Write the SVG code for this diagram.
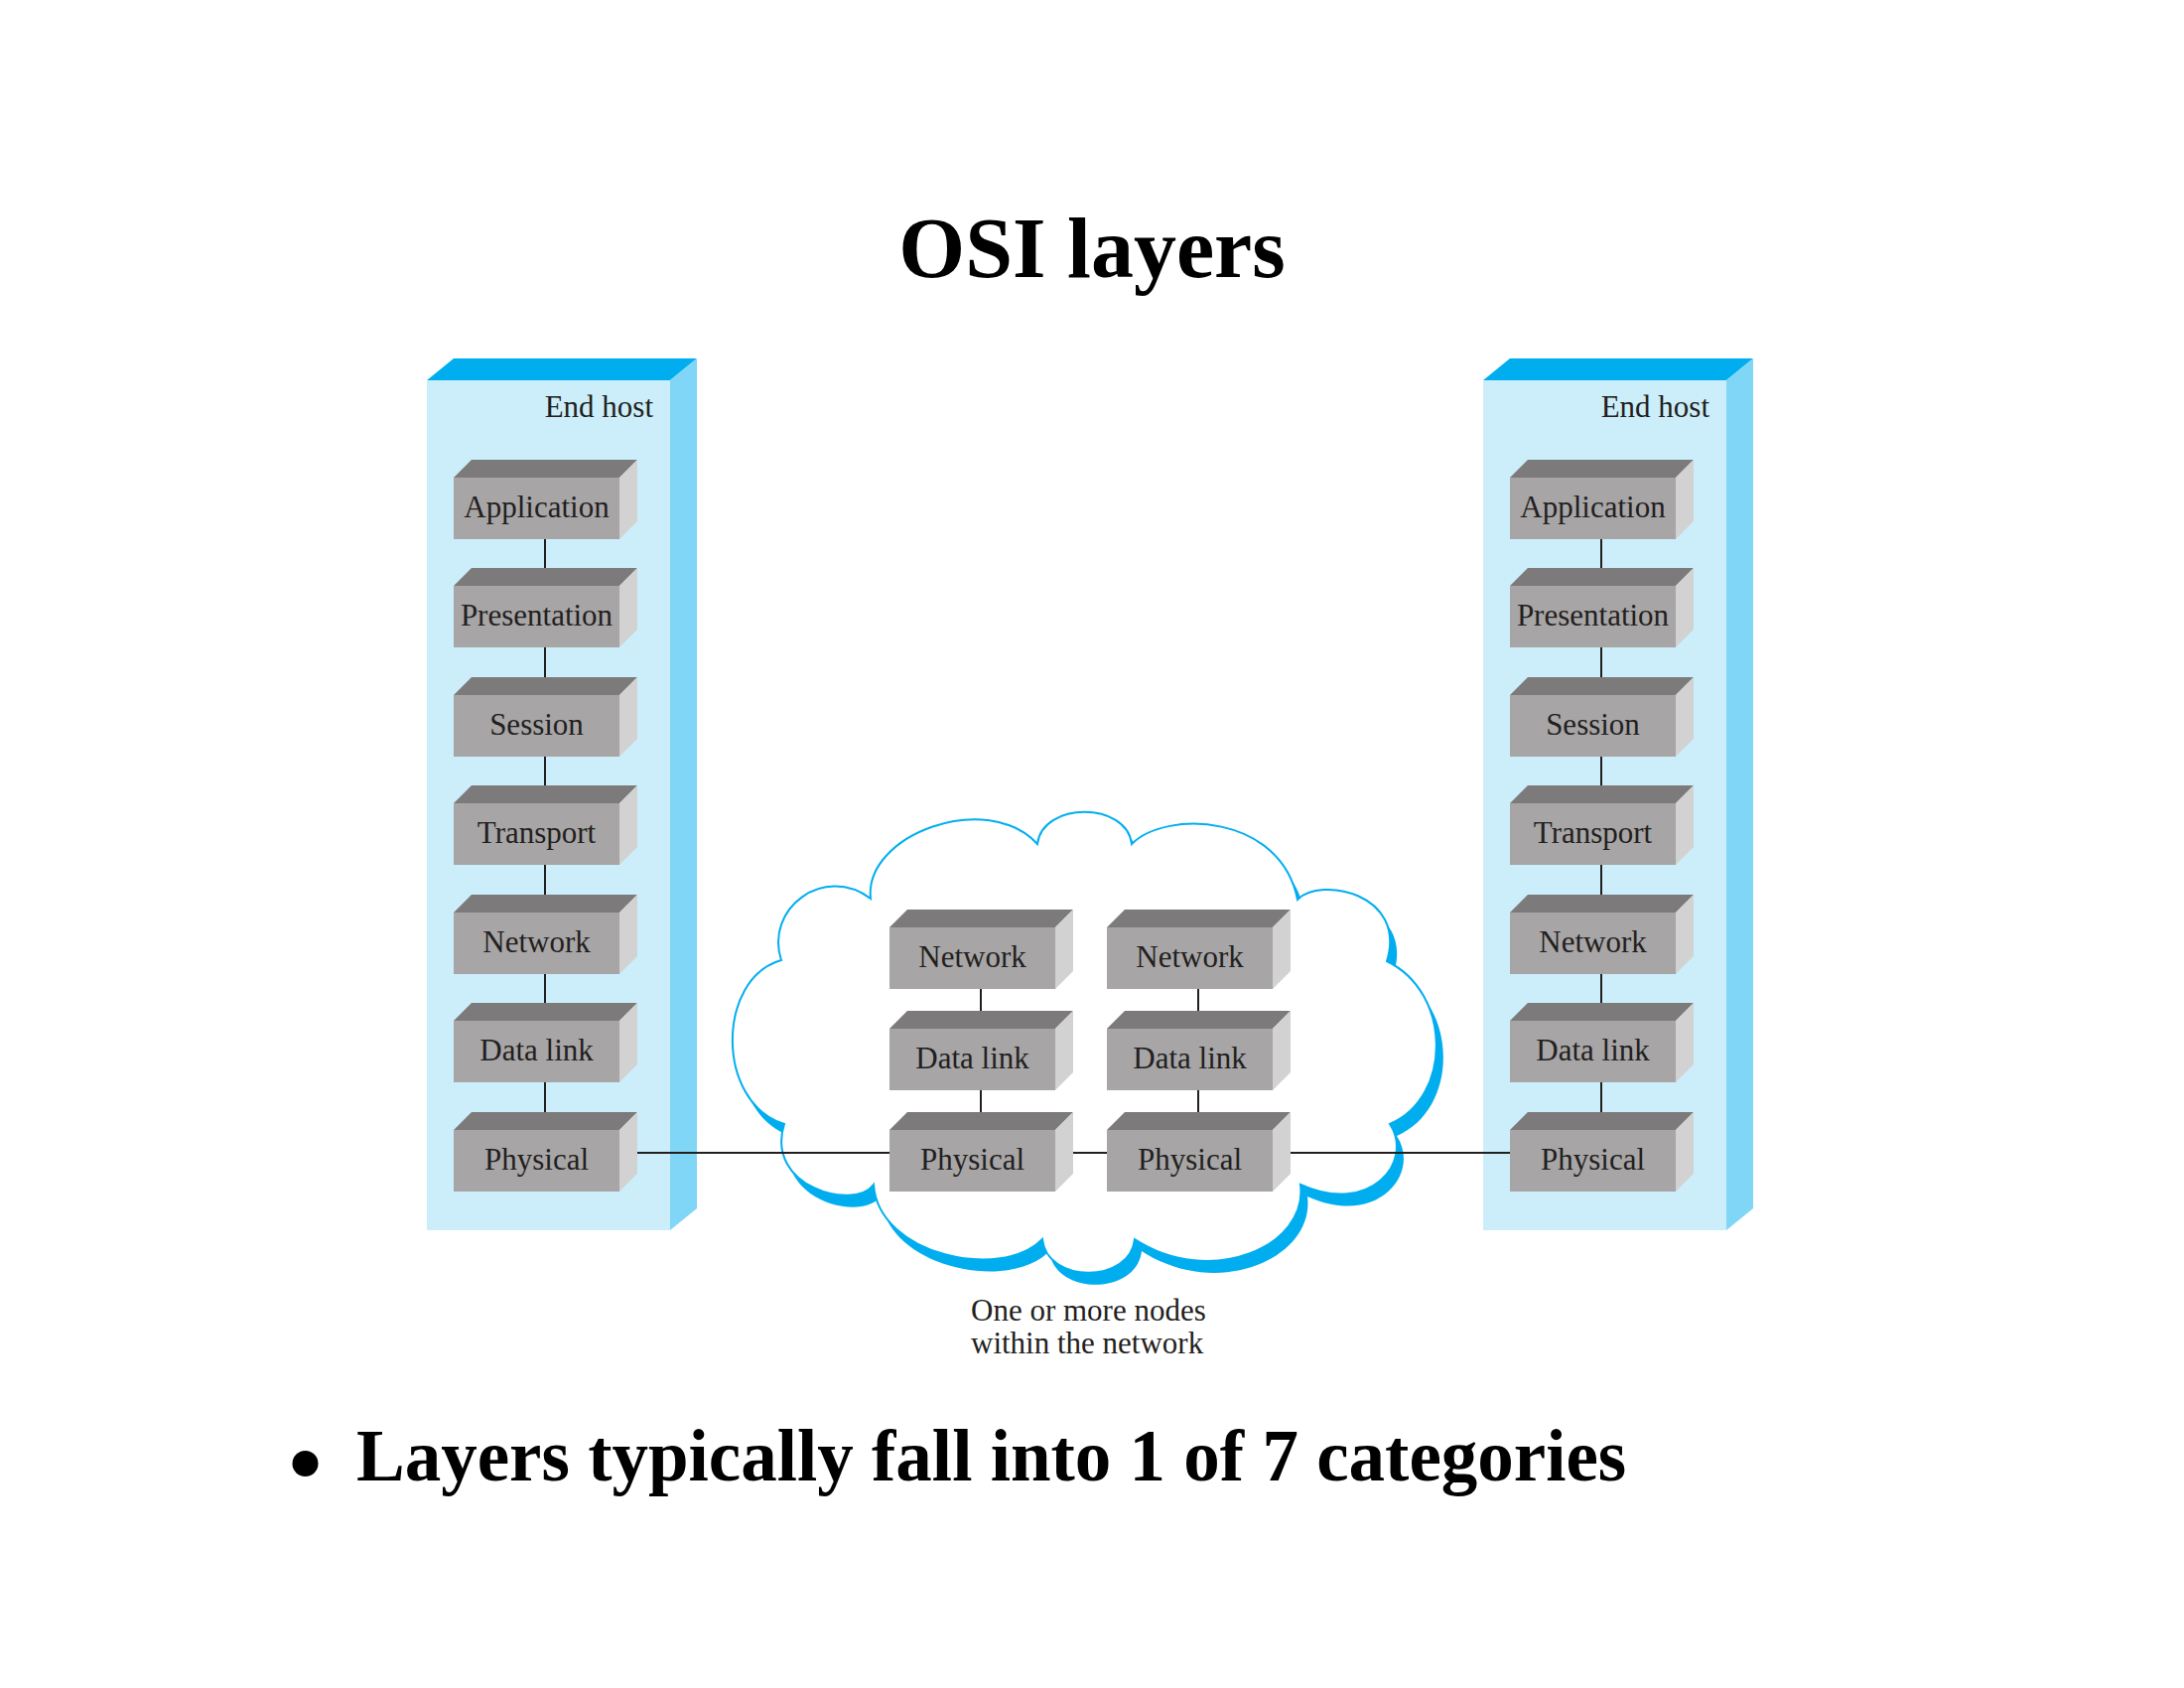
<svg xmlns="http://www.w3.org/2000/svg" xmlns:xlink="http://www.w3.org/1999/xlink" width="2200" height="1700" viewBox="0 0 2200 1700">
<style>
.tf{fill:#CCEEFA}
.tt{fill:#00AEEF}
.ts{fill:#80D6F7}
.bf{fill:#A7A5A6}
.bt{fill:#7D7A7B}
.bs{fill:#D2D2D2}
.lbl{font-family:"Liberation Serif",serif;font-size:31px;fill:#231F20;text-anchor:middle}
.cap{font-family:"Liberation Serif",serif;font-size:31px;fill:#231F20}
.ln{stroke:#231F20;stroke-width:2;fill:none}
.title{font-family:"Liberation Serif",serif;font-weight:bold;font-size:86px;fill:#000;text-anchor:middle}
.bul{font-family:"Liberation Serif",serif;font-weight:bold;font-size:73px;fill:#000}
</style>
<defs>
<g id="blk">
<polygon class="bt" points="0,0 18,-18 185,-18 167,0"/>
<polygon class="bs" points="167,0 185,-18 185,44 167,62"/>
<rect class="bf" x="0" y="0" width="167" height="62"/>
</g>
<path id="cloudp" d="M1045,850 C1050,807 1135,807 1140,850 C1175,815 1290,820 1307,906 C1330,882 1418,900 1397,968 C1463,1000 1463,1105 1400,1132 C1425,1170 1380,1225 1310,1193 C1318,1255 1220,1298 1143,1248 C1138,1293 1055,1293 1050,1248 C1010,1290 885,1265 880,1193 C860,1220 770,1195 790,1132 C720,1110 722,985 787,967 C770,915 830,870 877,905 C870,840 995,795 1045,850 Z"/>
</defs>
<rect width="2200" height="1700" fill="#fff"/>
<text class="title" x="1100" y="279">OSI layers</text>

<g id="host-left">
<polygon class="tt" points="430,383 457,361 702,361 675,383"/>
<polygon class="ts" points="675,383 702,361 702,1217 675,1239"/>
<rect class="tf" x="430" y="383" width="245" height="856"/>
<text class="cap" x="658" y="420" text-anchor="end">End host</text>
</g>
<g id="host-right">
<polygon class="tt" points="1494,383 1521,361 1766,361 1739,383"/>
<polygon class="ts" points="1739,383 1766,361 1766,1217 1739,1239"/>
<rect class="tf" x="1494" y="383" width="245" height="856"/>
<text class="cap" x="1722" y="420" text-anchor="end">End host</text>
</g>

<g id="cloud">
<use xlink:href="#cloudp" href="#cloudp" transform="translate(7,12)" fill="#00AEEF"/>
<use xlink:href="#cloudp" href="#cloudp" fill="#fff" stroke="#00AEEF" stroke-width="2"/>
<text class="cap" x="978" y="1330">One or more nodes</text>
<text class="cap" x="978" y="1363">within the network</text>
</g>

<g id="connectors">
<line class="ln" x1="549" y1="543" x2="549" y2="572"/>
<line class="ln" x1="549" y1="652" x2="549" y2="682"/>
<line class="ln" x1="549" y1="762" x2="549" y2="791"/>
<line class="ln" x1="549" y1="871" x2="549" y2="901"/>
<line class="ln" x1="549" y1="981" x2="549" y2="1010"/>
<line class="ln" x1="549" y1="1090" x2="549" y2="1120"/>
<line class="ln" x1="1613" y1="543" x2="1613" y2="572"/>
<line class="ln" x1="1613" y1="652" x2="1613" y2="682"/>
<line class="ln" x1="1613" y1="762" x2="1613" y2="791"/>
<line class="ln" x1="1613" y1="871" x2="1613" y2="901"/>
<line class="ln" x1="1613" y1="981" x2="1613" y2="1010"/>
<line class="ln" x1="1613" y1="1090" x2="1613" y2="1120"/>
<line class="ln" x1="988" y1="996" x2="988" y2="1018"/>
<line class="ln" x1="988" y1="1098" x2="988" y2="1120"/>
<line class="ln" x1="1207" y1="996" x2="1207" y2="1018"/>
<line class="ln" x1="1207" y1="1098" x2="1207" y2="1120"/>
<line class="ln" x1="642" y1="1161" x2="896" y2="1161"/>
<line class="ln" x1="1081" y1="1161" x2="1115" y2="1161"/>
<line class="ln" x1="1300" y1="1161" x2="1522" y2="1161"/>
</g>

<g id="l-app"><use href="#blk" xlink:href="#blk" x="457" y="481"/><text class="lbl" x="540.5" y="521">Application</text></g>
<g id="l-pre"><use href="#blk" xlink:href="#blk" x="457" y="590"/><text class="lbl" x="540.5" y="630">Presentation</text></g>
<g id="l-ses"><use href="#blk" xlink:href="#blk" x="457" y="700"/><text class="lbl" x="540.5" y="740">Session</text></g>
<g id="l-tra"><use href="#blk" xlink:href="#blk" x="457" y="809"/><text class="lbl" x="540.5" y="849">Transport</text></g>
<g id="l-net"><use href="#blk" xlink:href="#blk" x="457" y="919"/><text class="lbl" x="540.5" y="959">Network</text></g>
<g id="l-dl"><use href="#blk" xlink:href="#blk" x="457" y="1028"/><text class="lbl" x="540.5" y="1068">Data link</text></g>
<g id="l-phy"><use href="#blk" xlink:href="#blk" x="457" y="1138"/><text class="lbl" x="540.5" y="1178">Physical</text></g>

<g id="r-app"><use href="#blk" xlink:href="#blk" x="1521" y="481"/><text class="lbl" x="1604.5" y="521">Application</text></g>
<g id="r-pre"><use href="#blk" xlink:href="#blk" x="1521" y="590"/><text class="lbl" x="1604.5" y="630">Presentation</text></g>
<g id="r-ses"><use href="#blk" xlink:href="#blk" x="1521" y="700"/><text class="lbl" x="1604.5" y="740">Session</text></g>
<g id="r-tra"><use href="#blk" xlink:href="#blk" x="1521" y="809"/><text class="lbl" x="1604.5" y="849">Transport</text></g>
<g id="r-net"><use href="#blk" xlink:href="#blk" x="1521" y="919"/><text class="lbl" x="1604.5" y="959">Network</text></g>
<g id="r-dl"><use href="#blk" xlink:href="#blk" x="1521" y="1028"/><text class="lbl" x="1604.5" y="1068">Data link</text></g>
<g id="r-phy"><use href="#blk" xlink:href="#blk" x="1521" y="1138"/><text class="lbl" x="1604.5" y="1178">Physical</text></g>

<g id="m1-net"><use href="#blk" xlink:href="#blk" x="896" y="934"/><text class="lbl" x="979.5" y="974">Network</text></g>
<g id="m1-dl"><use href="#blk" xlink:href="#blk" x="896" y="1036"/><text class="lbl" x="979.5" y="1076">Data link</text></g>
<g id="m1-phy"><use href="#blk" xlink:href="#blk" x="896" y="1138"/><text class="lbl" x="979.5" y="1178">Physical</text></g>
<g id="m2-net"><use href="#blk" xlink:href="#blk" x="1115" y="934"/><text class="lbl" x="1198.5" y="974">Network</text></g>
<g id="m2-dl"><use href="#blk" xlink:href="#blk" x="1115" y="1036"/><text class="lbl" x="1198.5" y="1076">Data link</text></g>
<g id="m2-phy"><use href="#blk" xlink:href="#blk" x="1115" y="1138"/><text class="lbl" x="1198.5" y="1178">Physical</text></g>

<g id="bullet">
<circle cx="307.5" cy="1474" r="13" fill="#000"/>
<text class="bul" x="359" y="1491">Layers typically fall into 1 of 7 categories</text>
</g>
</svg>
